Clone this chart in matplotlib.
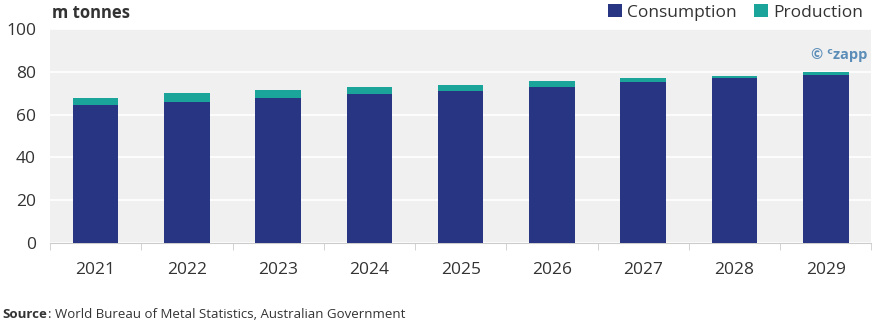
import matplotlib.pyplot as plt
import numpy as np

years = ["2021", "2022", "2023", "2024", "2025", "2026", "2027", "2028", "2029"]
consumption = [64.3, 65.8, 67.8, 69.5, 71.1, 73.0, 75.1, 77.1, 78.5]
production = [67.7, 70.3, 71.5, 72.8, 74.0, 75.6, 77.0, 78.2, 79.8]
yticks = [0, 20, 40, 60, 80, 100]

navy = "#283583"
teal = "#1ba59a"
plt.rcParams["font.family"] = ["Open Sans", "DejaVu Sans"]

fig = plt.figure(figsize=(8.89, 3.28), dpi=100)
ax = fig.add_axes([0.0562, 0.26, 0.924, 0.651])
ax.set_facecolor("#f0f0f0")

x = np.arange(len(years))
# production sits behind consumption, so only the surplus shows
ax.bar(x, production, width=0.5, color=teal, zorder=2, label="Production")
ax.bar(x, consumption, width=0.5, color=navy, zorder=3, label="Consumption")

ax.set_ylim(0, 100)
ax.set_xlim(-0.5, len(years) - 0.5)
ax.set_yticks(yticks)
ax.yaxis.grid(True, color="white", linewidth=1.2, zorder=1)
ax.set_axisbelow(True)

ax.set_xticks(x)
ax.set_xticklabels(years)
ax.set_xticks(np.arange(-0.5, len(years)), minor=True)
ax.tick_params(axis="x", which="major", length=0, pad=14, labelsize=12.5, colors="#333333")
ax.tick_params(axis="x", which="minor", length=5, color="#cccccc")
ax.tick_params(axis="y", length=0, pad=10, labelsize=12.5, colors="#333333")
for s in ["top", "right", "left"]:
    ax.spines[s].set_visible(False)
ax.spines["bottom"].set_color("#cccccc")

fig.text(0.058, 0.945, "m tonnes", fontsize=12, fontweight="bold", color="#333333")
ax.text(0.995, 0.88, "© ᶜzapp", transform=ax.transAxes, ha="right", va="center",
        fontsize=10.5, fontweight="bold", color="#5b8db8")

handles, labels = ax.get_legend_handles_labels()
fig.legend(handles[::-1], labels[::-1], loc="upper right", bbox_to_anchor=(0.988, 1.035),
           ncol=2, frameon=False, fontsize=12.5, handlelength=0.8, handleheight=0.8,
           handletextpad=0.3, columnspacing=1.0, labelcolor="#333333")

src = fig.text(0.003, 0.03, "Source", fontsize=9.5, fontweight="bold", color="#333333")
ax.annotate(": World Bureau of Metal Statistics, Australian Government",
            xy=(1, 0), xycoords=src, va="bottom", fontsize=9.5, color="#333333")

fig.savefig("out.png", dpi=100)
